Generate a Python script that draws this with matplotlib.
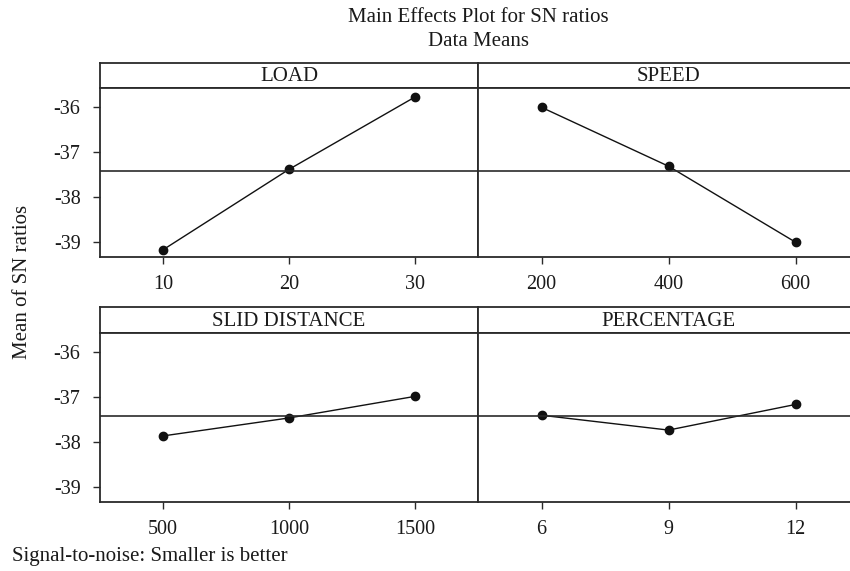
import matplotlib
matplotlib.use("Agg")
import matplotlib.pyplot as plt

plt.rcParams['font.family'] = ['Liberation Serif', 'DejaVu Serif']

factors = ["LOAD", "SPEED", "SLID DISTANCE", "PERCENTAGE"]
load_levels = [10, 20, 30]
load_sn = [-39.18, -37.39, -35.78]
speed_levels = [200, 400, 600]
speed_sn = [-36.01, -37.32, -39.01]
slid_levels = [500, 1000, 1500]
slid_sn = [-37.87, -37.47, -36.99]
perc_levels = [6, 9, 12]
perc_sn = [-37.41, -37.74, -37.17]
grand_mean = -37.43
y_ticks = [-36, -37, -38, -39]

levels = [load_levels, speed_levels, slid_levels, perc_levels]
values = [load_sn, speed_sn, slid_sn, perc_sn]

W, H = 850, 571
fig = plt.figure(figsize=(W / 100, H / 100), dpi=100)

def rect(x0, y0, x1, y1):
    return [x0 / W, 1 - y1 / H, (x1 - x0) / W, (y1 - y0) / H]

cols = [(100, 478), (478, 859)]
rows = [(63, 88, 257), (307, 333, 502)]
ec = "#2a2a2a"
tc = "#1a1a1a"
fs = 15
tfs = 14.5

for i in range(4):
    r, c = divmod(i, 2)
    x0, x1 = cols[c]
    st, sb, pb = rows[r]
    # strip
    sax = fig.add_axes(rect(x0, st, x1, sb))
    sax.set_xticks([]); sax.set_yticks([])
    for sp in sax.spines.values():
        sp.set_color(ec); sp.set_linewidth(1.3)
    sax.text(0.5, 0.45, factors[i], ha="center", va="center", fontsize=fs, color=tc,
             transform=sax.transAxes)
    # plot
    ax = fig.add_axes(rect(x0, sb, x1, pb))
    for sp in ax.spines.values():
        sp.set_color(ec); sp.set_linewidth(1.3)
    lv = levels[i]
    step = lv[1] - lv[0]
    ax.plot(lv, values[i], color="#111111", lw=1.0, marker="o", ms=6, mfc="#111111", mec="#111111")
    ax.axhline(grand_mean, color=ec, lw=1.2)
    ax.set_xlim(lv[0] - step / 2, lv[-1] + step / 2)
    ax.set_ylim(-39.34, -35.58)
    ax.set_xticks(lv)
    ax.set_xticklabels([str(v) for v in lv])
    ax.set_yticks(y_ticks)
    if c == 0:
        ax.set_yticklabels([str(v) for v in y_ticks])
        ax.tick_params(axis="y", direction="out", length=5, width=1.0, colors=ec,
                       labelsize=tfs, labelcolor=tc, pad=9)
    else:
        ax.tick_params(axis="y", left=False, labelleft=False)
    ax.tick_params(axis="x", direction="out", length=5, width=1.0, colors=ec,
                   labelsize=tfs, labelcolor=tc, pad=8)

fig.text(478 / W, 1 - 17 / H, "Main Effects Plot for SN ratios", ha="center", va="center",
         fontsize=fs, color=tc)
fig.text(478 / W, 1 - 42 / H, "Data Means", ha="center", va="center", fontsize=fs, color=tc)
fig.text(23 / W, 1 - 282 / H, "Mean of SN ratios", ha="center", va="center", rotation=90,
         fontsize=fs, color=tc)
fig.text(12 / W, 1 - 556 / H, "Signal-to-noise: Smaller is better", ha="left", va="center",
         fontsize=fs, color=tc)

fig.savefig("out.png", dpi=100, facecolor="white")
